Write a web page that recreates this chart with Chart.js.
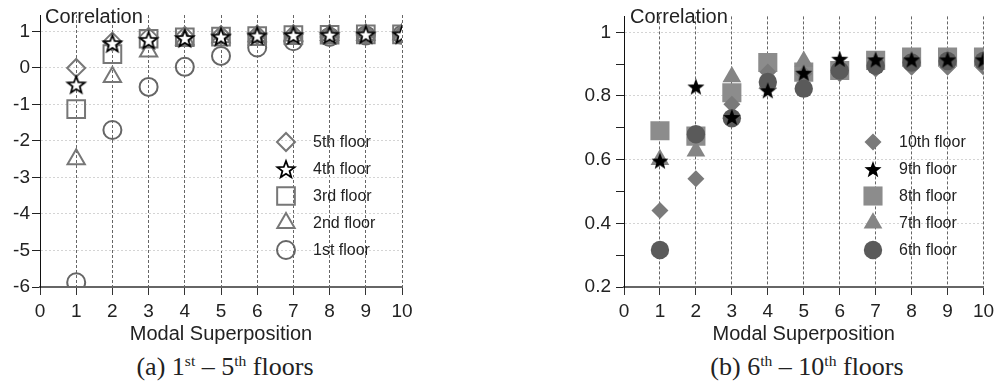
<!DOCTYPE html>
<html>
<head>
<meta charset="utf-8">
<script src="https://cdn.jsdelivr.net/npm/chart.js@4.4.1/dist/chart.umd.min.js"></script>
<style>
  html, body { margin: 0; padding: 0; background: #fff; }
  #wrap { position: relative; width: 997px; height: 385px; overflow: hidden; }
  canvas { position: absolute; top: 0; }
  .cap { position: absolute; font-family: 'Liberation Serif', 'Times New Roman', serif; font-size: 26px;
         line-height: 26px; color: #222; text-align: center; white-space: nowrap; }
  .cap sup { font-size: 0.6em; line-height: 0; vertical-align: 0; position: relative; top: -0.6em; }
</style>
</head>
<body>
<div id="wrap">
  <canvas id="chartA" width="480" height="350" style="left:0"></canvas>
  <canvas id="chartB" width="421" height="350" style="left:576px"></canvas>
  <div class="cap" style="left:0;width:450px;top:354px">(a) 1<sup>st</sup> – 5<sup>th</sup> floors</div>
  <div class="cap" style="left:617px;width:380px;top:354px">(b) 6<sup>th</sup> – 10<sup>th</sup> floors</div>
</div>
<script>
// number of superposed modes (x axis)
const modes = [1, 2, 3, 4, 5, 6, 7, 8, 9, 10];

// (a) 1st - 5th floors
const floor5 = [0.00, 0.72, 0.85, 0.88, 0.90, 0.91, 0.92, 0.92, 0.93, 0.93];
const floor4 = [-0.45, 0.68, 0.77, 0.82, 0.86, 0.89, 0.90, 0.91, 0.92, 0.92];
const floor3 = [-1.13, 0.38, 0.80, 0.84, 0.86, 0.87, 0.90, 0.91, 0.92, 0.92];
const floor2 = [-2.50, -0.25, 0.45, 0.78, 0.84, 0.87, 0.89, 0.90, 0.91, 0.92];
const floor1 = [-5.87, -1.70, -0.52, 0.03, 0.33, 0.56, 0.73, 0.85, 0.89, 0.91];

// (b) 6th - 10th floors
const floor10 = [0.44, 0.54, 0.774, 0.875, 0.87, 0.87, 0.885, 0.89, 0.89, 0.89];
const floor9 = [0.597, 0.83, 0.734, 0.818, 0.873, 0.917, 0.915, 0.915, 0.915, 0.915];
const floor8 = [0.691, 0.674, 0.81, 0.905, 0.875, 0.88, 0.912, 0.922, 0.922, 0.922];
const floor7 = [0.60, 0.627, 0.86, 0.84, 0.909, 0.89, 0.905, 0.91, 0.915, 0.915];
const floor6 = [0.316, 0.68, 0.73, 0.844, 0.823, 0.88, 0.895, 0.905, 0.91, 0.91];

const labelsA = ['5th floor', '4th floor', '3rd floor', '2nd floor', '1st floor'];
const labelsB = ['10th floor', '9th floor', '8th floor', '7th floor', '6th floor'];

const FONT = "'Liberation Sans', Arial, sans-serif";
const TEXT = '#222';

// five pointed star as an image, Chart.js only has an asterisk 'star'
function starMark(R, fill, stroke, lw) {
  const c = document.createElement('canvas');
  const s = Math.ceil(2 * R + lw + 4);
  c.width = c.height = s;
  const g = c.getContext('2d');
  g.beginPath();
  for (let i = 0; i < 10; i++) {
    const r = i % 2 ? R * 0.42 : R;
    const a = -Math.PI / 2 + i * Math.PI / 5;
    g.lineTo(s / 2 + r * Math.cos(a), s / 2 + 1 + r * Math.sin(a));
  }
  g.closePath();
  g.fillStyle = fill;
  g.fill();
  if (lw > 0) {
    g.lineWidth = lw;
    g.strokeStyle = stroke;
    g.lineJoin = 'miter';
    g.stroke();
  }
  return c;
}

function series(values) {
  return modes.map((m, i) => ({ x: m, y: values[i] }));
}

function mark(label, values, style, radius, fill, line, width, order) {
  return {
    label: label,
    data: series(values),
    pointStyle: style,
    pointRadius: radius,
    pointHoverRadius: radius,
    backgroundColor: fill,
    borderColor: line,
    pointBorderWidth: width,
    order: order
  };
}

// legend + "Correlation" label drawn inside the plot
const floorLegend = {
  id: 'floorLegend',
  afterDraw(chart, args, opts) {
    const ctx = chart.ctx;
    ctx.save();
    chart.data.datasets.forEach((ds, i) => {
      const y = opts.top + i * opts.gap;
      ctx.fillStyle = ds.backgroundColor;
      ctx.strokeStyle = ds.borderColor;
      ctx.lineWidth = ds.pointBorderWidth;
      Chart.helpers.drawPoint(ctx, {
        pointStyle: ds.pointStyle, radius: ds.pointRadius,
        borderWidth: ds.pointBorderWidth, rotation: 0
      }, opts.x, y);
      ctx.fillStyle = TEXT;
      ctx.font = '16px ' + FONT;
      ctx.textAlign = 'left';
      ctx.textBaseline = 'middle';
      ctx.fillText(ds.label, opts.textX, y + 1);
    });
    ctx.font = '20px ' + FONT;
    ctx.textBaseline = 'alphabetic';
    ctx.fillStyle = TEXT;
    ctx.fillText('Correlation', opts.titleX, 23);
    ctx.restore();
  }
};

function makeChart(id, datasets, cfg) {
  return new Chart(document.getElementById(id), {
    type: 'scatter',
    data: { datasets: datasets },
    plugins: [floorLegend],
    options: {
      responsive: false,
      animation: false,
      devicePixelRatio: 1,
      layout: { padding: { left: 0, right: cfg.padRight, top: 15, bottom: 0 } },
      plugins: {
        legend: { display: false },
        tooltip: { enabled: false },
        floorLegend: cfg.legend
      },
      scales: {
        x: {
          type: 'linear', min: 0, max: 10,
          ticks: { stepSize: 1, color: TEXT, font: { family: FONT, size: 19 }, padding: 5 },
          grid: {
            color: c => c.tick && c.tick.value === 0 ? 'rgba(0,0,0,0)' : '#666',
            lineWidth: 1, tickColor: '#333', tickLength: 8
          },
          border: { color: '#666', width: 2, dash: [3, 2] },
          title: {
            display: true, text: 'Modal Superposition', color: TEXT,
            font: { family: FONT, size: 20 }, padding: { top: 0, bottom: 4 }
          },
          afterFit: s => { s.height = 63; s.paddingLeft = 0; s.paddingRight = 0; }
        },
        y: {
          type: 'linear', min: cfg.yMin, max: cfg.yMax,
          ticks: {
            stepSize: cfg.yStep, includeBounds: false, color: TEXT,
            font: { family: FONT, size: 19 }, padding: cfg.yPad,
            callback: v => cfg.isMajor(v) ? cfg.fmt(v) : ''
          },
          grid: {
            color: c => c.tick && cfg.isMajor(c.tick.value) && c.tick.value > cfg.yMin ? '#d4d4d4' : 'rgba(0,0,0,0)',
            lineWidth: 1, tickColor: '#222', tickLength: 8
          },
          border: { color: '#111', width: 1, dash: [2, 2] },
          afterFit: s => { s.width = cfg.yWidth; }
        }
      }
    }
  });
}

const hollow = 'rgba(0,0,0,0)';
const grayLine = '#777';

makeChart('chartA', [
  mark(labelsA[0], floor5, 'rectRot', 9, hollow, grayLine, 2, 1),
  mark(labelsA[1], floor4, starMark(9, '#fff', '#000', 1.8), 9, '#fff', '#000', 0, 0),
  mark(labelsA[2], floor3, 'rect', 12.5, hollow, grayLine, 2, 2),
  mark(labelsA[3], floor2, 'triangle', 10, hollow, grayLine, 2, 3),
  mark(labelsA[4], floor1, 'circle', 9, hollow, '#666', 2, 4)
], {
  padRight: 78, yMin: -6, yMax: 1.45, yStep: 0.5, yPad: 2, yWidth: 40,
  isMajor: v => Math.abs(v - Math.round(v)) < 1e-6,
  fmt: v => String(Math.round(v)),
  legend: { x: 286, textX: 313, top: 142, gap: 27, titleX: 45 }
});

makeChart('chartB', [
  mark(labelsB[0], floor10, 'rectRot', 8.5, '#7a7a7a', '#7a7a7a', 0, 2),
  mark(labelsB[1], floor9, starMark(9, '#000', '#000', 0), 9, '#000', '#000', 0, 0),
  mark(labelsB[2], floor8, 'rect', 13.5, '#8c8c8c', '#8c8c8c', 0, 4),
  mark(labelsB[3], floor7, 'triangle', 10.8, '#858585', '#858585', 0, 3),
  mark(labelsB[4], floor6, 'circle', 9.2, '#5a5a5a', '#5a5a5a', 0, 1)
], {
  padRight: 11, yMin: 0.2, yMax: 1.05, yStep: 0.1, yPad: 5, yWidth: 48,
  isMajor: v => Math.round(v * 10) % 2 === 0,
  fmt: v => String(Math.round(v * 10) / 10),
  legend: { x: 297, textX: 323, top: 142, gap: 27, titleX: 54 }
});
</script>
</body>
</html>
